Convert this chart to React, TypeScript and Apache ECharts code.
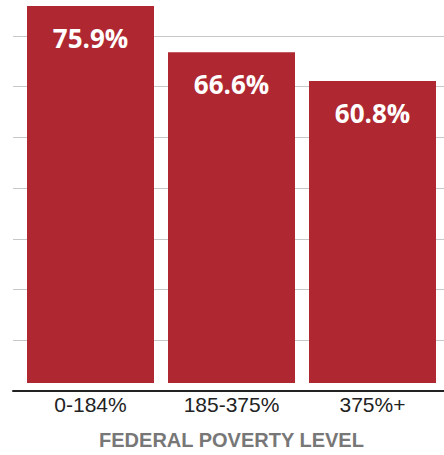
import React, { useEffect, useRef } from "react";
import * as echarts from "echarts";

const categories = ["0-184%", "185-375%", "375%+"];
const values = [75.9, 66.6, 60.8];
const axisTitle = "FEDERAL POVERTY LEVEL";

const Y_MAX = 77.1;
const Y_INTERVAL = 10;

export default function App() {
  const ref = useRef<HTMLDivElement>(null);
  useEffect(() => {
    document.body.style.margin = "0";
    const chart = echarts.init(ref.current!, undefined, { renderer: "svg" });
    const gridColors = ["#c8c8c8", "#c8c8c8", "#c8c8c8", "#c8c8c8", "#c8c8c8", "#c8c8c8", "#c8c8c8", "#c8c8c8", "rgba(0,0,0,0)"];
    chart.setOption({
      animation: false,
      grid: [
        { left: 20, right: 1, top: 0, bottom: 64 },
        { left: 13, right: 0, top: 0, bottom: 64 },
      ],
      xAxis: [
        {
          type: "category",
          gridIndex: 0,
          data: categories,
          axisLine: { show: false },
          axisTick: { show: false },
          axisLabel: {
            color: "#222",
            fontFamily: "Liberation Sans, Arial, sans-serif",
            fontSize: 21,
            margin: 11,
          },
          name: axisTitle,
          nameLocation: "middle",
          nameGap: 47,
          nameTextStyle: {
            color: "#777",
            fontFamily: "Liberation Sans, Arial, sans-serif",
            fontWeight: "bold",
            fontSize: 20,
          },
        },
        {
          type: "category",
          gridIndex: 1,
          data: categories,
          axisLine: { show: true, lineStyle: { color: "#222", width: 2 } },
          axisTick: { show: false },
          axisLabel: { show: false },
        },
      ],
      yAxis: [
        {
          type: "value",
          gridIndex: 0,
          min: 0,
          max: Y_MAX,
          interval: Y_INTERVAL,
          show: false,
          splitLine: { show: false },
        },
        {
          type: "value",
          gridIndex: 1,
          min: 0,
          max: Y_MAX,
          interval: Y_INTERVAL,
          axisLine: { show: false },
          axisTick: { show: false },
          axisLabel: { show: false },
          splitLine: { show: true, lineStyle: { color: gridColors, width: 1 } },
        },
      ],
      series: [
        {
          type: "bar",
          xAxisIndex: 0,
          yAxisIndex: 0,
          data: values,
          barWidth: 127,
          itemStyle: { color: "#AF2730" },
          label: {
            show: true,
            position: "insideTop",
            distance: 19,
            formatter: "{c}%",
            color: "#fff",
            fontFamily: "Open Sans, sans-serif",
            fontWeight: "bold",
            fontSize: 26,
          },
        },
      ],
    });
    return () => chart.dispose();
  }, []);
  return <div ref={ref} style={{ width: 444, height: 455 }} />;
}
